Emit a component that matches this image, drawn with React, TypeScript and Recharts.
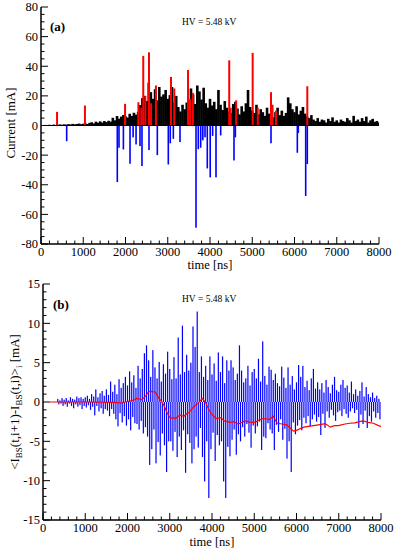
import React from 'react';
import { ComposedChart, Bar, Line, XAxis, YAxis, ReferenceLine } from 'recharts';

const FONT = '"Liberation Serif", "Times New Roman", serif';

// ---- panel (a): beam current, sampled every 50 ns from t = 0
const blackStepNs = 50;
const blackCurrent = [
  0.3, 0.2, 0.4, 0.3, 0.5, 0.3, 0.6, 0.4, 0.5, 0.7,
  0.5, 0.8, 0.6, 0.9, 0.7, 1.1, 0.8, 1.0, 1.3, 0.9,
  1.2, 1.5, 1.0, 1.8, 2.2, 1.4, 2.6, 1.9, 2.8, 2.0,
  3.0, 2.3, 3.2, 2.6, 5.2, 3.5, 6.4, 4.6, 6.0, 7.1,
  6.2, 5.4, 7.9, 6.5, 8.6, 7.3, 9.2, 13.8, 18.5, 20.0,
  16.5, 29.0, 22.5, 18.0, 24.5, 17.0, 26.0, 19.5, 21.0, 24.0,
  18.0, 20.5, 26.0, 15.5, 20.0, 12.5, 9.5, 14.0, 11.0, 15.5,
  10.5, 25.0, 21.0, 14.5, 27.0, 23.0, 17.5, 25.5, 15.0, 12.0,
  18.0, 13.5, 16.0, 11.0, 24.0, 14.0, 10.5, 16.5, 12.0, 9.5,
  8.5, 14.5, 16.0, 11.5, 7.5, 13.0, 9.5, 15.0, 24.0, 12.5,
  10.0, 8.5, 14.0, 7.5, 11.0, 9.0, 6.5, 12.0, 8.0, 10.5,
  5.5, 9.0, 12.0, 7.0, 10.0, 6.5, 8.5, 19.0, 15.0, 11.0,
  9.0, 13.0, 7.5, 10.0, 12.5, 8.0, 6.0, 5.0, 7.0, 4.0,
  3.0, 5.0, 2.5, 4.0, 3.5, 2.0, 4.5, 3.0, 5.5, 2.5,
  3.5, 2.0, 4.0, 3.0, 2.5, 5.0, 3.5, 2.0, 6.5, 3.0,
  4.0, 2.5, 5.0, 3.0, 6.0, 2.0, 3.5, 4.5, 2.5, 3.0,
  2.0,
];

const redSpikeTimes = [380, 1040, 1990, 2305, 2375, 2420, 2470, 2556, 2605, 2720, 3077, 3155, 3480, 3530, 3595, 4455, 4490, 4620, 5010, 5130, 5444, 5480, 5562, 6303];
const redSpikeValues = [9.2, 13.5, 14.6, 15.7, 12.0, 47.0, 20.0, 49.4, 15.0, 27.0, 32.8, 25.0, 37.5, 18.0, 22.0, 44.0, 12.0, 17.0, 49.0, 12.0, 22.5, 14.0, 10.0, 26.5];

const blueSpikeTimes = [608, 1806, 1846, 1950, 2107, 2180, 2250, 2343, 2390, 2556, 2753, 3013, 3060, 3132, 3290, 3669, 3723, 3780, 3830, 3882, 3936, 4005, 4063, 4142, 4253, 4568, 4600, 5444, 6067, 6090, 6265, 6303];
const blueSpikeValues = [-10.6, -38.2, -15.0, -16.2, -25.8, -8.0, -12.8, -13.9, -27.4, -16.6, -20.0, -26.3, -12.0, -9.0, -11.2, -69.0, -16.0, -15.0, -10.0, -8.0, -29.0, -35.0, -7.0, -35.0, -6.7, -23.6, -8.0, -12.0, -18.4, -5.0, -47.6, -26.0];

// ---- panel (b): differences, positive at t = i*50, negative at t = i*50 + 25
const diffStepNs = 50;
const diffPositive = [
  0, 0, 0, 0, 0, 0, 0, 0.4, 0.2, 0.5,
  0.3, 0.5, 0.2, 0.6, 0.4, 0.3, 0.7, 0.5, 0.6, 0.4,
  0.6, 0.8, 0.4, 1.0, 0.7, 1.6, 0.6, 1.1, 1.4, 0.8,
  1.6, 0.9, 2.6, 1.3, 2.2, 1.0, 2.9, 1.8, 2.4, 3.2,
  2.1, 3.9, 2.5, 3.4, 1.8, 4.6, 3.0, 4.2, 6.2, 7.2,
  5.3, 3.2, 6.6, 4.4, 3.0, 5.1, 2.6, 4.8, 3.6, 6.4,
  4.2, 2.9, 5.7, 3.0, 8.2, 3.5, 9.7, 3.8, 6.0, 4.0,
  5.0, 9.6, 7.0, 11.5, 3.8, 5.8, 3.2, 4.6, 2.8, 5.8,
  3.5, 4.9, 2.7, 6.3, 3.8, 5.8, 2.4, 5.3, 4.0, 5.3,
  4.4, 2.8, 3.6, 7.2, 4.0, 2.5, 3.0, 4.6, 2.1, 3.8,
  4.2, 3.0, 5.5, 2.6, 7.7, 3.3, 2.2, 4.5, 4.1, 2.8,
  3.6, 2.4, 2.0, 4.5, 3.1, 1.8, 4.4, 2.2, 3.3, 1.6,
  2.5, 4.7, 3.2, 4.6, 1.9, 2.7, 1.5, 3.0, 4.2, 1.7,
  2.5, 1.6, 2.4, 1.2, 2.8, 1.9, 1.1, 2.2, 3.2, 1.5,
  1.3, 2.2, 2.8, 1.8, 2.1, 1.2, 2.6, 1.0, 1.6, 0.8,
  1.4, 2.5, 0.7, 1.9, 1.0, 0.6, 1.2, 0.5, 0.8, 0.4,
];
const diffNegative = [
  0, 0, 0, 0, 0, 0, 0, -0.3, -0.2, -0.5,
  -0.3, -0.6, -0.2, -0.5, -0.8, -0.3, -0.6, -0.4, -0.9, -0.5,
  -0.7, -0.4, -1.0, -0.6, -1.7, -0.5, -1.2, -0.8, -1.5, -0.9,
  -1.1, -1.8, -0.9, -1.5, -2.2, -3.1, -1.4, -2.6, -1.8, -3.0,
  -2.2, -3.6, -1.9, -2.7, -2.8, -3.5, -2.4, -4.0, -3.2, -4.4,
  -8.0, -6.0, -3.5, -7.8, -5.1, -6.8, -4.0, -5.5, -8.9, -5.0,
  -5.0, -6.2, -3.8, -7.0, -4.4, -6.1, -3.6, -9.0, -4.1, -5.2,
  -7.8, -6.0, -4.4, -5.8, -3.3, -7.0, -10.1, -5.0, -12.2, -6.0,
  -3.9, -7.5, -4.2, -5.5, -5.0, -10.1, -12.2, -5.7, -6.9, -4.8,
  -3.5, -6.7, -4.1, -5.0, -3.2, -4.4, -2.8, -3.9, -5.8, -3.0,
  -4.0, -3.1, -2.5, -6.1, -4.4, -4.6, -2.7, -3.5, -4.0, -6.1,
  -2.9, -3.8, -2.2, -4.8, -3.4, -7.2, -5.0, -8.9, -2.6, -4.1,
  -3.0, -2.3, -3.6, -2.0, -2.7, -1.8, -3.1, -2.2, -1.6, -2.5,
  -1.9, -4.2, -1.5, -3.3, -1.2, -2.0, -1.0, -1.7, -2.4, -1.3,
  -1.1, -1.8, -0.9, -1.5, -2.0, -1.2, -0.8, -1.4, -1.0, -3.3,
  -1.6, -2.8, -1.1, -3.3, -1.8, -2.5, -1.2, -2.0, -1.4, -2.2,
];

const meanTimes = [
  170, 1000, 1700, 1850, 1950, 2050, 2150, 2220, 2340, 2420,
  2500, 2580, 2660, 2740, 2800, 2860, 2940, 3020, 3080, 3140,
  3200, 3250, 3330, 3400, 3450, 3570, 3690, 3770, 3850, 3910,
  3970, 4090, 4210, 4290, 4430, 4520, 4620, 4700, 4780, 4900,
  5020, 5110, 5210, 5370, 5450, 5500, 5550, 5660, 5770, 5850,
  5930, 6000, 6080, 6180, 6280, 6400, 6520, 6680, 6800, 6900,
  6990, 7150, 7260, 7380, 7480, 7580, 7700, 7820, 7940, 8000,
];
const meanValues = [
  0, 0, -0.05, -0.15, 0, 0.1, 0.25, 0.45, 0.3, 0.7,
  1.3, 1.35, 1.25, 0.5, 0.1, -0.4, -1.4, -2.1, -2.0, -2.1,
  -1.8, -1.65, -1.85, -1.5, -1.35, -0.6, -0.05, 0.45, -0.1, -0.8,
  -1.4, -2.1, -2.0, -2.4, -2.6, -2.5, -2.8, -2.6, -2.4, -2.55,
  -2.6, -2.3, -2.1, -2.2, -1.8, -2.3, -2.7, -2.8, -2.9, -3.3,
  -3.7, -3.6, -3.4, -3.2, -3.1, -3.0, -2.9, -2.75, -3.2, -3.0,
  -3.0, -2.8, -2.7, -2.65, -2.5, -2.4, -2.6, -2.7, -3.0, -3.1,
];

// ---- axes
const xTicks = Array.from({ length: 41 }, (_, i) => i * 200);
const yTicksA = Array.from({ length: 33 }, (_, i) => -80 + i * 5);
const yTicksB = Array.from({ length: 31 }, (_, i) => -15 + i);

const rowsA = [
  ...blackCurrent.map((v, i) => ({ t: i * blackStepNs, black: v })),
  ...redSpikeTimes.map((t, i) => ({ t, red: redSpikeValues[i] })),
  ...blueSpikeTimes.map((t, i) => ({ t, blue: blueSpikeValues[i] })),
];

const rowsB = [
  ...diffPositive.map((v, i) => ({ t: i * diffStepNs, diff: v } as any)),
  ...diffNegative.map((v, i) => ({ t: i * diffStepNs + 25, diff: v } as any)),
  ...meanTimes.map((t, i) => ({ t, mean: meanValues[i] } as any)),
].sort((a, b) => a.t - b.t);

const MAJOR = 7;
const MINOR = 3.5;

// thin impulse centred on the bar slot Recharts computes
function impulse(color: string, w: number) {
  return (p: any) => {
    if (p.height == null || p.x == null || !p.height) return <g />;
    const top = Math.min(p.y, p.y + p.height);
    const h = Math.abs(p.height);
    return <rect x={p.x + p.width / 2 - w / 2} y={top} width={w} height={h} fill={color} />;
  };
}

function makeXTick(side: 'bottom' | 'top') {
  return (props: any) => {
    const { x, y, payload } = props;
    const major = payload.value % 1000 === 0;
    const dir = side === 'bottom' ? -1 : 1;
    return (
      <g>
        <line x1={x} x2={x} y1={y} y2={y + dir * (major ? MAJOR : MINOR)} stroke="#000" strokeWidth={1} />
        {side === 'bottom' && major ? (
          <text x={x} y={y + 12} textAnchor="middle" fontFamily={FONT} fontSize={12.5} fill="#000">
            {payload.value}
          </text>
        ) : null}
      </g>
    );
  };
}

function makeYTick(side: 'left' | 'right', majorStep: number) {
  return (props: any) => {
    const { x, y, payload } = props;
    const major = payload.value % majorStep === 0;
    const dir = side === 'left' ? 1 : -1;
    return (
      <g>
        <line x1={x} x2={x + dir * (major ? MAJOR : MINOR)} y1={y} y2={y} stroke="#000" strokeWidth={1} />
        {side === 'left' && major ? (
          <text x={x - 3} y={y} dy="0.35em" textAnchor="end" fontFamily={FONT} fontSize={12.5} fill="#000">
            {payload.value}
          </text>
        ) : null}
      </g>
    );
  };
}

const frame = { stroke: '#000', strokeWidth: 1.5 };

export default function App() {
  return (
    <div style={{ position: 'absolute', left: 0, top: 0, width: 396, height: 550, background: '#fff' }}>
      <div style={{ position: 'absolute', left: 0, top: 0 }}>
        <ComposedChart width={396} height={275} data={rowsA} margin={{ top: 7, right: 17, bottom: 0, left: 0 }}>
          <XAxis dataKey="t" type="number" domain={[0, 8000]} ticks={xTicks} interval={0} height={31}
            tickSize={0} tickMargin={0} tickLine={false} axisLine={frame} tick={makeXTick('bottom')} allowDataOverflow />
          <XAxis xAxisId="top" orientation="top" dataKey="t" type="number" domain={[0, 8000]} ticks={xTicks} interval={0} height={0}
            tickSize={0} tickMargin={0} tickLine={false} axisLine={frame} tick={makeXTick('top')} allowDataOverflow />
          <YAxis type="number" domain={[-80, 80]} ticks={yTicksA} interval={0} width={41}
            tickSize={0} tickMargin={0} tickLine={false} axisLine={frame} tick={makeYTick('left', 20)} allowDataOverflow />
          <YAxis yAxisId="right" orientation="right" type="number" domain={[-80, 80]} ticks={yTicksA} interval={0} width={0}
            tickSize={0} tickMargin={0} tickLine={false} axisLine={frame} tick={makeYTick('right', 20)} allowDataOverflow />
          <ReferenceLine y={0} stroke="#000" strokeWidth={1} />
          <Bar dataKey="black" stackId="s" fill="#000" shape={impulse('#000', 2.6)} isAnimationActive={false} />
          <Bar dataKey="red" stackId="s" fill="#ff0000" shape={impulse('#ff0000', 2)} isAnimationActive={false} />
          <Bar dataKey="blue" stackId="s" fill="#0000ff" shape={impulse('#0000ff', 1.6)} isAnimationActive={false} />
        </ComposedChart>
      </div>
      <div style={{ position: 'absolute', left: 0, top: 275 }}>
        <ComposedChart width={396} height={275} data={rowsB} margin={{ top: 9, right: 15, bottom: 0, left: 0 }}>
          <XAxis dataKey="t" type="number" domain={[0, 8000]} ticks={xTicks} interval={0} height={30}
            tickSize={0} tickMargin={0} tickLine={false} axisLine={frame} tick={makeXTick('bottom')} allowDataOverflow />
          <XAxis xAxisId="top" orientation="top" dataKey="t" type="number" domain={[0, 8000]} ticks={xTicks} interval={0} height={0}
            tickSize={0} tickMargin={0} tickLine={false} axisLine={frame} tick={makeXTick('top')} allowDataOverflow />
          <YAxis type="number" domain={[-15, 15]} ticks={yTicksB} interval={0} width={43}
            tickSize={0} tickMargin={0} tickLine={false} axisLine={frame} tick={makeYTick('left', 5)} allowDataOverflow />
          <YAxis yAxisId="right" orientation="right" type="number" domain={[-15, 15]} ticks={yTicksB} interval={0} width={0}
            tickSize={0} tickMargin={0} tickLine={false} axisLine={frame} tick={makeYTick('right', 5)} allowDataOverflow />
          <Bar dataKey="diff" fill="#0000ff" shape={impulse('#0000ff', 1.2)} isAnimationActive={false} />
          <Line dataKey="mean" type="linear" stroke="#ff0000" strokeWidth={1.2} dot={false} connectNulls isAnimationActive={false} />
        </ComposedChart>
      </div>
      <svg width={396} height={550} style={{ position: 'absolute', left: 0, top: 0, pointerEvents: 'none' }}
        fontFamily={FONT} fill="#000">
        <text x={50} y={31} fontSize={13} fontWeight="bold">(a)</text>
        <text x={182} y={25} fontSize={9.5}>HV = 5.48 kV</text>
        <text x={15} y={123} fontSize={13} textAnchor="middle" transform="rotate(-90 15 123)">Current [mA]</text>
        <text x={210} y={269} fontSize={12.5} textAnchor="middle">time [ns]</text>

        <text x={53} y={309} fontSize={13} fontWeight="bold">(b)</text>
        <text x={182} y={302} fontSize={9.5}>HV = 5.48 kV</text>
        <text x={19} y={402} fontSize={13} textAnchor="middle" transform="rotate(-90 19 402)">
          {'<I'}<tspan dy={3} fontSize={9}>BS</tspan><tspan dy={-3}>(t,i+1)-I</tspan>
          <tspan dy={3} fontSize={9}>BS</tspan><tspan dy={-3}>{'(t,i)>'}</tspan>
          <tspan dy={3} fontSize={9}>i</tspan><tspan dy={-3}> [mA]</tspan>
        </text>
        <text x={212} y={546} fontSize={12.5} textAnchor="middle">time [ns]</text>
      </svg>
    </div>
  );
}
